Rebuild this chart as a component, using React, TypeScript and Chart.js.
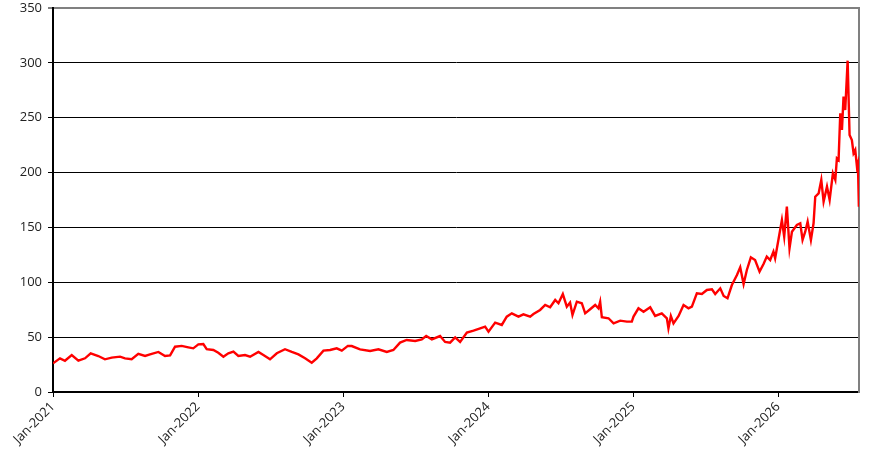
import { useEffect, useRef } from "react";
import { Chart, registerables } from "chart.js";

Chart.register(...registerables);

// months since Jan-2021
const months = [
  0, 0.58, 0.99, 1.55, 2.1, 2.65, 3.12, 3.75, 4.3, 4.86, 5.55, 5.96, 6.51, 7.06, 7.62, 8.03,
  8.72, 9.27, 9.69, 10.1, 10.65, 11.2, 11.61, 12.03, 12.44, 12.72, 13.27, 13.68, 14.1, 14.51,
  14.93, 15.34, 15.89, 16.31, 17.0, 17.41, 17.96, 18.52, 19.2, 19.76, 20.31, 20.86, 21.41,
  21.83, 22.38, 22.93, 23.48, 23.9, 24.4, 24.72, 25.41, 26.24, 26.93, 27.62, 28.17, 28.72,
  29.27, 29.97, 30.52, 30.88, 31.35, 32.03, 32.45, 32.86, 33.28, 33.69, 34.25, 34.8, 35.35,
  35.76, 36.04, 36.59, 37.14, 37.55, 37.97, 38.52, 38.93, 39.49, 39.76, 40.31, 40.73, 41.14,
  41.56, 41.83, 42.19, 42.52, 42.79, 42.99, 43.35, 43.76, 44.04, 44.45, 44.87, 45.14, 45.28,
  45.42, 45.97, 46.39, 46.94, 47.49, 47.9, 48.04, 48.45, 48.87, 49.42, 49.83, 50.38, 50.8,
  50.93, 51.13, 51.35, 51.77, 52.18, 52.59, 52.87, 53.28, 53.7, 54.11, 54.53, 54.8, 55.22,
  55.5, 55.82, 56.18, 56.6, 56.87, 57.15, 57.42, 57.75, 58.1, 58.47, 58.8, 59.07, 59.35,
  59.62, 59.76, 60.04, 60.32, 60.51, 60.73, 60.95, 61.15, 61.56, 61.84, 62.03, 62.25, 62.45,
  62.72, 62.94, 63.08, 63.36, 63.58, 63.77, 64.05, 64.27, 64.54, 64.74, 64.87, 65.01, 65.15,
  65.29, 65.42, 65.56, 65.76, 65.92, 66.11, 66.25, 66.39, 66.53, 66.61, 66.69,
];

const prices = [
  26.1, 30.7, 28.5, 33.7, 28.5, 30.7, 35.3, 32.8, 29.8, 31.3, 32.2, 30.7, 29.8, 34.7, 32.8, 34.3,
  36.5, 32.8, 33.4, 41.3, 42, 40.7, 39.8, 43.4, 43.7, 39, 38.3, 35.8, 32.2, 35.3,
  36.8, 32.8, 33.7, 32.2, 36.5, 33.7, 29.8, 35.3, 39, 36.5, 34.3, 30.7, 26.7,
  30.7, 37.7, 38.3, 39.8, 37.7, 42, 41.9, 38.9, 37.4, 38.9, 36.5, 38.3, 45,
  47.4, 46.5, 48, 51, 48, 51, 45.6, 45, 49.8, 45.6, 54.1, 55.9, 58,
  59.6, 55, 63.2, 61.1, 68.7, 71.7, 68.7, 70.8, 68.7, 71, 74.8, 79.3, 77.2,
  83.9, 80.9, 89.3, 77.8, 81.6, 70.2, 82.3, 80.9, 71.7, 75.4, 79.3, 76.3, 82.3,
  68.1, 67.2, 62.6, 65, 64.1, 64.1, 68.7, 76.3, 73.2, 77.2, 69.3, 71.7, 67.2,
  58, 69.3, 62.6, 69.3, 79.3, 76.3, 77.8, 90, 89.3, 93, 93.6, 89.3, 94.5,
  87.5, 85.4, 97.5, 106.7, 113.7, 98.4, 111.2, 122.8, 120.3, 109.7, 116.7, 123.4, 120.3,
  127.9, 121.9, 139.2, 156.8, 141.6, 168.9, 131, 146.1, 152.2, 153.8, 138.6, 146.1, 155.3,
  138.6, 153.8, 178, 181.1, 193.3, 173.5, 187.2, 175, 199.3, 193.3, 213, 211.5, 254,
  238.8, 269.2, 257, 302, 234.3, 229.7, 217.6, 220.6, 205.4, 208.5, 168.9,
];

const xTicks = [0, 12, 24, 36, 48, 60];
const tickFont = { family: "'Open Sans', sans-serif", size: 13, lineHeight: 1.2 };

export default function App() {
  const canvasRef = useRef<HTMLCanvasElement>(null);
  const chartRef = useRef<Chart | null>(null);

  useEffect(() => {
    if (!canvasRef.current) return;
    if (chartRef.current) chartRef.current.destroy();

    chartRef.current = new Chart(canvasRef.current, {
      type: "line",
      data: {
        datasets: [
          {
            data: months.map((m, i) => ({ x: m, y: prices[i] })),
            borderColor: "#ff0000",
            borderWidth: 2.4,
            pointRadius: 0,
            tension: 0,
            fill: false,
          },
        ],
      },
      options: {
        animation: false,
        responsive: true,
        maintainAspectRatio: false,
        layout: { padding: { top: 8, right: 24, left: 0, bottom: 0 } },
        plugins: { legend: { display: false }, tooltip: { enabled: false } },
        scales: {
          x: {
            type: "linear",
            min: 0,
            max: 66.7,
            afterBuildTicks: (scale: any) => {
              scale.ticks = xTicks.map((v) => ({ value: v }));
            },
            afterFit: (scale: any) => {
              scale.height = 75;
            },
            ticks: {
              minRotation: 45,
              maxRotation: 45,
              font: tickFont,
              color: "#222",
              padding: 2,
              callback: (v: any) => "Jan-" + (2021 + Math.round(Number(v) / 12)),
            },
            grid: { drawOnChartArea: false, drawTicks: true, tickLength: 5, tickColor: "#000", tickWidth: 1 },
            border: { color: "#000", width: 2 },
          },
          y: {
            min: 0,
            max: 350,
            afterFit: (scale: any) => {
              scale.width = 53;
              scale.paddingTop = 0;
              scale.paddingBottom = 0;
            },
            ticks: { stepSize: 50, font: tickFont, color: "#222", padding: 6 },
            grid: {
              color: (ctx: any) => (ctx.tick && ctx.tick.value === 350 ? "#808080" : "#000"),
              lineWidth: (ctx: any) => (ctx.tick && ctx.tick.value === 350 ? 2 : 1),
              tickColor: "#000",
              tickLength: 5,
              tickWidth: 1,
            },
            border: { color: "#000", width: 2 },
          },
          y2: {
            position: "right",
            min: 0,
            max: 350,
            afterFit: (scale: any) => {
              scale.width = 0;
              scale.paddingTop = 0;
              scale.paddingBottom = 0;
            },
            ticks: { display: false },
            grid: { display: false },
            border: { color: "#808080", width: 2 },
          },
        },
      },
    });

    return () => {
      if (chartRef.current) {
        chartRef.current.destroy();
        chartRef.current = null;
      }
    };
  }, []);

  return (
    <div style={{ position: "absolute", left: 0, top: 0, width: 883, height: 467, background: "#fff" }}>
      <canvas ref={canvasRef} />
    </div>
  );
}
